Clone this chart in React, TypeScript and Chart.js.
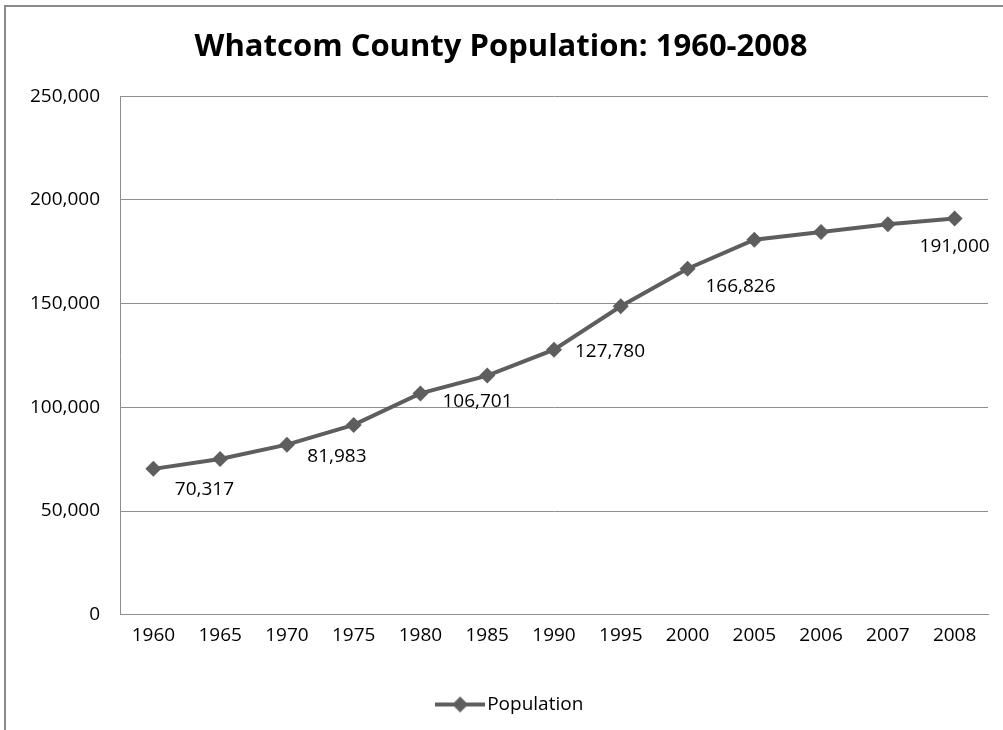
import React, { useEffect, useRef } from "react";
import { Chart, registerables } from "chart.js";

Chart.register(...registerables);

const years = ["1960", "1965", "1970", "1975", "1980", "1985", "1990", "1995", "2000", "2005", "2006", "2007", "2008"];
const population = [70317, 75100, 81983, 91500, 106701, 115300, 127780, 148700, 166826, 180800, 184500, 188300, 191000];
const labeledYears = ["1960", "1970", "1980", "1990", "2000", "2008"];
const yMin = 0;
const yMax = 250000;
const yStep = 50000;

const titleText = "Whatcom County Population: 1960-2008";
const seriesName = "Population";

const LINE_COLOR = "#5e5e5e";
const GRID_COLOR = "#8e8e8e";
const FONT = "'Open Sans', 'DejaVu Sans', sans-serif";

// label offsets (style) relative to each labeled point, in px: [dx, dy] of text centre
const labelOffsets: Record<string, [number, number]> = {
  "1960": [51, 21],
  "1970": [50, 12],
  "1980": [57, 8],
  "1990": [56, 2],
  "2000": [53, 18],
  "2008": [0, 28],
};

const fmt = (v: number) => v.toLocaleString("en-US");

const dataLabelPlugin = {
  id: "dataLabelPlugin",
  afterLayout(chart: any) {
    if (chart.legend) {
      chart.legend.left += 19;
      chart.legend.right += 19;
    }
    if (chart.titleBlock) {
      chart.titleBlock.left += 7;
      chart.titleBlock.right += 7;
    }
  },
  afterDatasetsDraw(chart: any) {
    const meta = chart.getDatasetMeta(0);
    const ctx = chart.ctx;
    ctx.save();
    ctx.font = `19px ${FONT}`;
    ctx.fillStyle = "#000";
    ctx.textAlign = "center";
    ctx.textBaseline = "middle";
    meta.data.forEach((pt: any, i: number) => {
      const yr = years[i];
      if (!labeledYears.includes(yr)) return;
      const off = labelOffsets[yr] || [50, 15];
      ctx.fillText(fmt(population[i]), pt.x + off[0], pt.y + off[1]);
    });
    ctx.restore();
  },
};

function makeLegendIcon() {
  const c = document.createElement("canvas");
  c.width = 50;
  c.height = 18;
  const g = c.getContext("2d")!;
  g.strokeStyle = LINE_COLOR;
  g.lineWidth = 4;
  g.beginPath();
  g.moveTo(0, 9);
  g.lineTo(50, 9);
  g.stroke();
  g.fillStyle = LINE_COLOR;
  g.beginPath();
  g.moveTo(25, 1);
  g.lineTo(33, 9);
  g.lineTo(25, 17);
  g.lineTo(17, 9);
  g.closePath();
  g.fill();
  return c;
}

export default function App() {
  const ref = useRef<HTMLCanvasElement | null>(null);

  useEffect(() => {
    if (!ref.current) return;
    const icon = makeLegendIcon();
    const chart = new Chart(ref.current, {
      type: "line",
      data: {
        labels: years,
        datasets: [
          {
            label: seriesName,
            data: population,
            borderColor: LINE_COLOR,
            backgroundColor: LINE_COLOR,
            borderWidth: 4,
            pointStyle: "rectRot",
            pointRadius: 8,
            pointBorderWidth: 0,
            pointBackgroundColor: LINE_COLOR,
            tension: 0,
          },
        ],
      },
      options: {
        responsive: false,
        animation: false,
        devicePixelRatio: 1,
        layout: { padding: { left: 0, right: 15, top: 0, bottom: 6 } },
        plugins: {
          title: {
            display: true,
            text: titleText,
            color: "#000",
            font: { family: FONT, size: 31, weight: "bold" },
            padding: { top: 29, bottom: 30 },
          },
          legend: {
            display: true,
            position: "bottom",
            labels: {
              usePointStyle: true,
              pointStyle: icon as any,
              pointStyleWidth: 35,
              color: "#000",
              font: { family: FONT, size: 19 },
              padding: 10,
            },
          },
          tooltip: { enabled: false },
        },
        scales: {
          x: {
            offset: true,
            grid: { display: false, drawTicks: false },
            border: { display: true, color: GRID_COLOR, width: 1 },
            ticks: {
              color: "#000",
              font: { family: FONT, size: 19 },
              padding: 9,
              maxRotation: 0,
              autoSkip: false,
            },
            afterFit: (scale: any) => {
              scale.height += 29.5;
            },
          },
          y: {
            min: yMin,
            max: yMax,
            grid: { color: GRID_COLOR, drawTicks: false },
            border: { display: true, color: GRID_COLOR, width: 1 },
            ticks: {
              stepSize: yStep,
              color: "#000",
              font: { family: FONT, size: 19 },
              padding: 20,
              callback: (v: any) => fmt(Number(v)),
            },
            afterFit: (scale: any) => {
              scale.width = 120;
            },
          },
        },
      },
      plugins: [dataLabelPlugin],
    });
    return () => chart.destroy();
  }, []);

  return (
    <div style={{ position: "fixed", left: 0, top: 0, width: 1003, height: 730, background: "#fff" }}>
      <canvas ref={ref} width={1003} height={730} style={{ position: "absolute", left: 0, top: 0, width: 1003, height: 730 }} />
      <div style={{ position: "absolute", left: 4, top: 5, width: 999, height: 2, background: "#8a8a8a" }} />
      <div style={{ position: "absolute", left: 4, top: 5, width: 2, height: 725, background: "#8a8a8a" }} />
    </div>
  );
}
